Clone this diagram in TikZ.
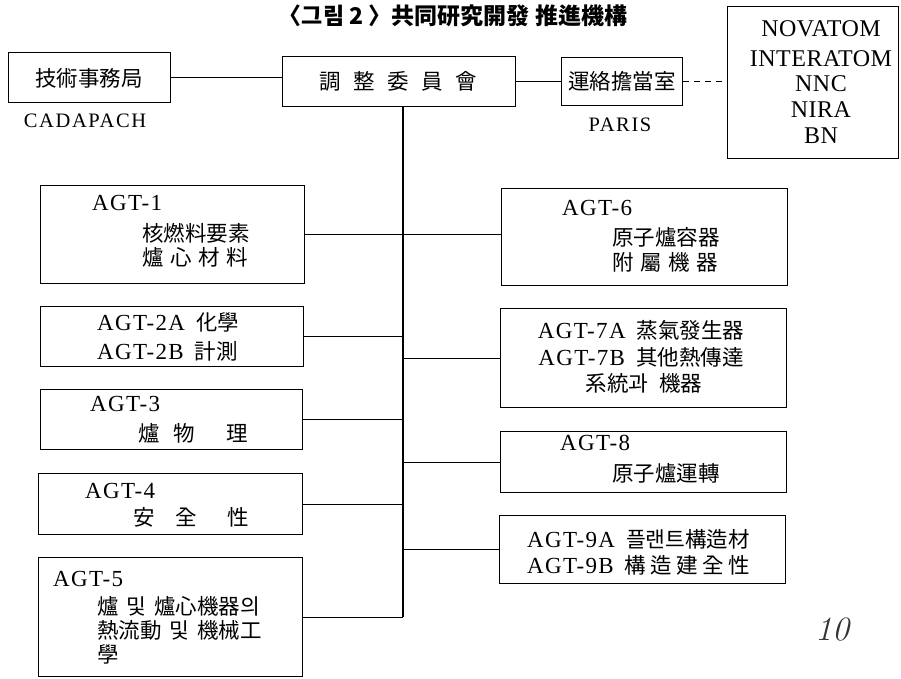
\documentclass[tikz,border=0pt]{standalone}
\usepackage{fontspec}
\newfontfamily\cjkfont{Noto Sans CJK KR}
\newfontfamily\latfont[LetterSpace=6]{Liberation Serif}
\newfontfamily\latsmall[LetterSpace=8]{Liberation Serif}
\newfontfamily\latnova[LetterSpace=2]{Liberation Serif}
\newcommand\mylat[1]{{\latfont\fontsize{23}{25}\selectfont #1}}
\newcommand\mycjk[1]{{\cjkfont\fontsize{21.5}{25}\selectfont #1}}
\newcommand\mysub[1]{{\latsmall\fontsize{20.5}{24}\selectfont #1}}
\newcommand\mynova[1]{{\latnova\fontsize{24}{27}\selectfont #1}}
\newcommand\gp[1]{\hspace{#1pt}}
\begin{document}
\begin{tikzpicture}[x=1pt,y=-1pt,
  box/.style={draw,line width=1.3pt,inner sep=0pt,anchor=north west},
  lbl/.style={inner sep=0pt,anchor=west},
  ctr/.style={inner sep=0pt,anchor=center},
  link/.style={line width=1.3pt},
  dlink/.style={line width=1.3pt,dash pattern=on 6pt off 5pt}]
\useasboundingbox (0,0) rectangle (901,678);

% title
\node[ctr] (title) at (453,16) {\cjkfont\bfseries\fontsize{23}{26}\selectfont 〈그림 2 〉共同研究開發 推進機構};

% top row boxes
\node[box,minimum width=162pt,minimum height=50pt] (tech) at (8,52) {};
\node[box,minimum width=233pt,minimum height=50pt] (ctrl) at (282,56) {};
\node[box,minimum width=121pt,minimum height=48pt] (liaison) at (561,57) {};
\node[box,minimum width=171pt,minimum height=152pt] (nova) at (727,6) {};

\node[ctr] (techT) at (89,78) {\mycjk{技術事務局}};
\node[ctr] (cadapach) at (85,120.5) {\mysub{CADAPACH}};
\node[ctr] (ctrlT) at (398,81) {\mycjk{調\gp{12.5}整\gp{12.5}委\gp{12.5}員\gp{12.5}會}};
\node[ctr] (liaisonT) at (622,81) {\mycjk{運絡擔當室}};
\node[ctr] (paris) at (620,124.5) {\mysub{PARIS}};
\node[ctr] (n1) at (821,29) {\mynova{NOVATOM}};
\node[ctr] (n2) at (821,59) {\mynova{INTERATOM}};
\node[ctr] (n3) at (821,84) {\mynova{NNC}};
\node[ctr] (n4) at (821,110) {\mynova{NIRA}};
\node[ctr] (n5) at (821,136) {\mynova{BN}};

% left boxes
\node[box,minimum width=264pt,minimum height=98pt] (agt1) at (40,185) {};
\node[box,minimum width=263pt,minimum height=60pt] (agt2) at (40,306) {};
\node[box,minimum width=262pt,minimum height=60pt] (agt3) at (40,389) {};
\node[box,minimum width=264pt,minimum height=61pt] (agt4) at (38,473) {};
\node[box,minimum width=264pt,minimum height=119pt] (agt5) at (38,557) {};
% right boxes
\node[box,minimum width=286pt,minimum height=97pt] (agt6) at (501,188) {};
\node[box,minimum width=286pt,minimum height=99pt] (agt7) at (500,308) {};
\node[box,minimum width=286pt,minimum height=61pt] (agt8) at (500,431) {};
\node[box,minimum width=286pt,minimum height=68pt] (agt9) at (499,515) {};

% texts left
\node[lbl] (a1a) at (92,203) {\mylat{AGT-1}};
\node[lbl] (a1b) at (142,233) {\mycjk{核燃料要素}};
\node[lbl] (a1c) at (142,257) {\mycjk{爐\gp{6.5}心\gp{6.5}材\gp{6.5}料}};
\node[lbl] (a2a) at (97,322.5) {\mylat{AGT-2A}\gp{11}\mycjk{化學}};
\node[lbl] (a2b) at (97,351) {\mylat{AGT-2B}\gp{11}\mycjk{計測}};
\node[lbl] (a3a) at (90,404) {\mylat{AGT-3}};
\node[lbl] (a3b) at (138,433) {\mycjk{爐\gp{13.5}物\gp{32}理}};
\node[lbl] (a4a) at (85,491) {\mylat{AGT-4}};
\node[lbl] (a4b) at (133,517) {\mycjk{安\gp{20.5}全\gp{30.5}性}};
\node[lbl] (a5a) at (53,579) {\mylat{AGT-5}};
\node[lbl] (a5b) at (97,606) {\mycjk{爐\gp{8}및\gp{8}爐心機器의}};
\node[lbl] (a5c) at (97,630) {\mycjk{熱流動\gp{8}및\gp{8}機械工}};
\node[lbl] (a5d) at (97,654) {\mycjk{學}};
% texts right
\node[lbl] (a6a) at (562,208) {\mylat{AGT-6}};
\node[lbl] (a6b) at (612,237) {\mycjk{原子爐容器}};
\node[lbl] (a6c) at (612,262) {\mycjk{附\gp{6.5}屬\gp{6.5}機\gp{6.5}器}};
\node[ctr] (a7a) at (641,330) {\mylat{AGT-7A}\gp{11}\mycjk{蒸氣發生器}};
\node[ctr] (a7b) at (641,357) {\mylat{AGT-7B}\gp{11}\mycjk{其他熱傳達}};
\node[ctr] (a7c) at (644,383) {\mycjk{系統과\gp{11}機器}};
\node[lbl] (a8a) at (560,443) {\mylat{AGT-8}};
\node[lbl] (a8b) at (612,473) {\mycjk{原子爐運轉}};
\node[lbl] (a9a) at (527,539) {\mylat{AGT-9A}\gp{11}\mycjk{플랜트構造材}};
\node[lbl] (a9b) at (527,565) {\mylat{AGT-9B}\gp{11}\mycjk{構\gp{4.5}造\gp{4.5}建\gp{4.5}全\gp{4.5}性}};

% handwritten page mark
\node[ctr,black!80] (pg) at (832,630) {\fontsize{34}{34}\selectfont\itshape 10};

% connectors
\coordinate (tx) at (403,0);
\draw[link] (tech.east) -- (tech.east -| ctrl.west);
\draw[link] (ctrl.east) -- (ctrl.east -| liaison.west);
\draw[dlink] (liaison.east) -- (liaison.east -| nova.west);
\draw[link] (ctrl.south -| tx) -- (agt5.east -| tx);
\draw[link] (agt1.east) -- (agt1.east -| agt6.west);
\draw[link] (agt2.east) -- (agt2.east -| tx);
\draw[link] (agt3.east) -- (agt3.east -| tx);
\draw[link] (agt4.east) -- (agt4.east -| tx);
\draw[link] (agt5.east) -- (agt5.east -| tx);
\draw[link] (agt7.west) -- (agt7.west -| tx);
\draw[link] (agt8.west) -- (agt8.west -| tx);
\draw[link] (agt9.west) -- (agt9.west -| tx);
\end{tikzpicture}
\end{document}
